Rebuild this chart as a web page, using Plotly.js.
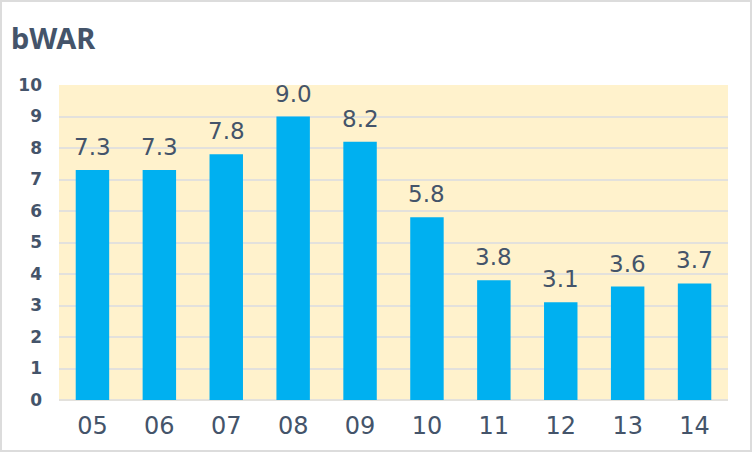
<!DOCTYPE html>
<html>
<head>
<meta charset="utf-8">
<script src="https://cdn.plot.ly/plotly-3.0.1.min.js"></script>
<style>
  html, body { margin: 0; padding: 0; background: #ffffff; }
  #chart { width: 748px; height: 448px; border: 2px solid #dcdcdc; }
</style>
</head>
<body>
<div id="chart"></div>
<script>
// data
const seasons = ["05", "06", "07", "08", "09", "10", "11", "12", "13", "14"];
const bwar = [7.3, 7.3, 7.8, 9.0, 8.2, 5.8, 3.8, 3.1, 3.6, 3.7];
const yTicks = [0, 1, 2, 3, 4, 5, 6, 7, 8, 9, 10];

const textColor = "#44546A";
const fontName = "DejaVu Sans";

const bars = {
  type: "bar",
  x: seasons,
  y: bwar,
  marker: { color: "#00B0F0" },
  width: 0.5,
  hoverinfo: "x+y",
  showlegend: false
};

// value labels above each bar (category index, so "05" isn't read as 5)
const labels = seasons.map((s, i) => ({
  x: i,
  y: bwar[i],
  xref: "x",
  yref: "y",
  text: bwar[i].toFixed(1),
  showarrow: false,
  yanchor: "bottom",
  yshift: 8,
  font: { family: fontName, size: 23, color: textColor }
}));

labels.push({
  text: "<b>bWAR</b>",
  xref: "paper",
  yref: "paper",
  x: -0.075,
  y: 1.15,
  xanchor: "left",
  yanchor: "middle",
  showarrow: false,
  font: { family: "Noto Sans", size: 29, color: textColor }
});

const layout = {
  width: 748,
  height: 448,
  margin: { l: 57, r: 22, t: 83, b: 50 },
  paper_bgcolor: "#ffffff",
  plot_bgcolor: "#FFF2CC",
  font: { family: fontName, color: textColor },
  bargap: 0.5,
  xaxis: {
    type: "category",
    range: [-0.5, 9.5],
    showgrid: false,
    zeroline: false,
    showline: false,
    ticks: "",
    ticklabelstandoff: 9,
    tickfont: { size: 24, color: textColor }
  },
  yaxis: {
    range: [0, 10],
    tickvals: yTicks,
    showgrid: true,
    gridcolor: "#E3E1DC",
    gridwidth: 2,
    zeroline: true,
    zerolinecolor: "#E3E1DC",
    zerolinewidth: 2,
    showline: false,
    ticks: "",
    ticklabelstandoff: 16,
    tickfont: { size: 17, color: textColor, weight: "bold" }
  },
  annotations: labels
};

Plotly.newPlot("chart", [bars], layout, { displayModeBar: false, staticPlot: true });
</script>
</body>
</html>
